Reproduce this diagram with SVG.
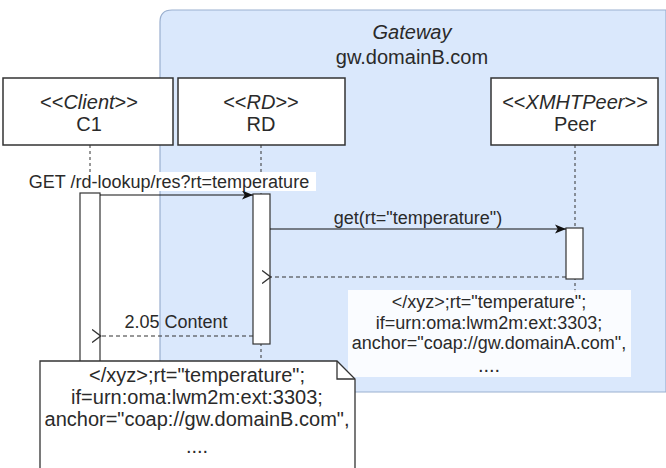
<svg xmlns="http://www.w3.org/2000/svg" width="666" height="468" viewBox="0 0 666 468">
<style>
text{font-family:"Liberation Sans",Arial,sans-serif;font-size:20px;fill:#2a2a2a;text-anchor:middle}
.m{font-size:18px}
.box{fill:#fff;stroke:#333;stroke-width:1.5}
.life{stroke:#333;stroke-width:1;stroke-dasharray:3 3;fill:none}
.act{fill:#fff;stroke:#333;stroke-width:1.2}
.msg{stroke:#111;stroke-width:1.2;fill:none}
.ret{stroke:#333;stroke-width:1.2;fill:none;stroke-dasharray:4 3}
</style>
<defs>
<marker id="filled" viewBox="0 0 10 10" refX="10" refY="5" markerWidth="11" markerHeight="11" markerUnits="userSpaceOnUse" orient="auto">
<path d="M0,1 L10,5 L0,9 L2.5,5 Z" fill="#111"/>
</marker>
<marker id="open" viewBox="0 0 10 14" refX="0.5" refY="7" markerWidth="10" markerHeight="14" markerUnits="userSpaceOnUse" orient="auto">
<path d="M9.5,0.5 L0.8,7 L9.5,13.5" fill="none" stroke="#333" stroke-width="1.4"/>
</marker>
</defs>
<g id="gateway">
<path d="M172,10 H666 V392 H160 V22 Q160,10 172,10 Z" fill="#dae8fc" stroke="#9aafcf" stroke-width="1.2"/>
<text x="412" y="39" font-style="italic">Gateway</text>
<text x="412" y="64">gw.domainB.com</text>
</g>
<g id="lifelines">
<line class="life" x1="90" y1="145" x2="90" y2="360"/>
<line class="life" x1="261" y1="145" x2="261" y2="360"/>
<line class="life" x1="575" y1="145" x2="575" y2="295"/>
</g>
<g id="client">
<rect class="box" x="3" y="78" width="170" height="67"/>
<text x="89" y="109">&lt;&lt;<tspan font-style="italic">Client</tspan>&gt;&gt;</text>
<text x="89" y="131">C1</text>
<rect class="act" x="80" y="193" width="20" height="175"/>
</g>
<g id="rd">
<rect class="box" x="178" y="78" width="167" height="67"/>
<text x="261" y="109">&lt;&lt;<tspan font-style="italic">RD</tspan>&gt;&gt;</text>
<text x="261" y="131">RD</text>
<rect class="act" x="253" y="194" width="17" height="150"/>
</g>
<g id="peer">
<rect class="box" x="491" y="78" width="167" height="67"/>
<text x="575" y="109">&lt;&lt;<tspan font-style="italic">XMHTPeer</tspan>&gt;&gt;</text>
<text x="575" y="131">Peer</text>
<rect class="act" x="566" y="228" width="17" height="51"/>
</g>
<g id="connectors">
<line class="msg" x1="100" y1="195" x2="253" y2="195" marker-end="url(#filled)"/>
<rect x="24" y="172" width="292" height="19" fill="#fff"/>
<text class="m" x="169" y="188">GET /rd-lookup/res?rt=temperature</text>
<line class="msg" x1="270" y1="229" x2="566" y2="229" marker-end="url(#filled)"/>
<text class="m" x="418" y="224">get(rt="temperature")</text>
<line class="ret" x1="566" y1="277" x2="271" y2="277" marker-end="url(#open)"/>
<line class="ret" x1="253" y1="336" x2="101" y2="336" marker-end="url(#open)"/>
<text class="m" x="176" y="328">2.05 Content</text>
</g>
<g id="peer-response">
<rect x="348" y="290" width="283" height="87" fill="#fff" fill-opacity="0.85"/>
<text class="m" x="489" y="308">&lt;/xyz&gt;;rt="temperature";</text>
<text class="m" x="489" y="329">if=urn:oma:lwm2m:ext:3303;</text>
<text class="m" x="489" y="349">anchor="coap://gw.domainA.com",</text>
<text x="489" y="372" font-size="9">....</text>
</g>
<g id="note">
<path d="M40,361 H337 L355,379 V470 H40 Z" fill="#fff" stroke="#333" stroke-width="1.3"/>
<path d="M337,361 V379 H355" fill="none" stroke="#333" stroke-width="1.3"/>
<text x="197" y="382">&lt;/xyz&gt;;rt="temperature";</text>
<text x="197" y="404">if=urn:oma:lwm2m:ext:3303;</text>
<text x="197" y="426">anchor="coap://gw.domainB.com",</text>
<text x="197" y="453" font-size="9">....</text>
</g>
</svg>
